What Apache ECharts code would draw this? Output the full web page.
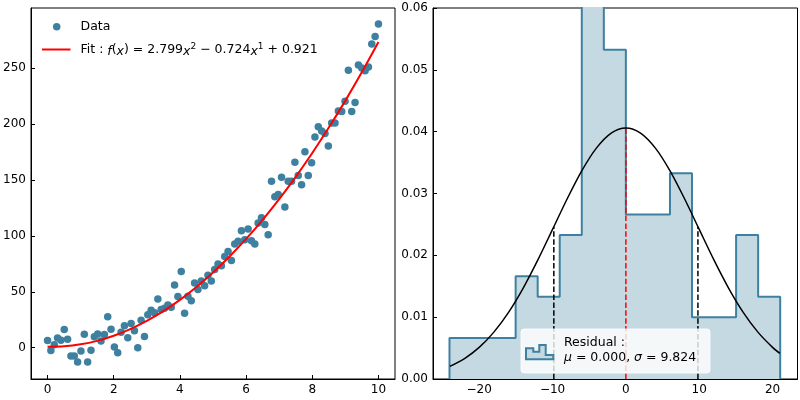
<!DOCTYPE html>
<html>
<head>
<meta charset="utf-8">
<script src="https://cdn.jsdelivr.net/npm/echarts@6/dist/echarts.min.js"></script>
<style>
  html, body { margin: 0; padding: 0; background: #fff; }
  #chart { width: 800px; height: 400px; }
</style>
</head>
<body>
<div id="chart"></div>
<script>
// scatter data (left panel)
const dataX = [0, 0.101, 0.202, 0.303, 0.404, 0.505, 0.606, 0.707, 0.808, 0.909,
  1.010, 1.111, 1.212, 1.313, 1.414, 1.515, 1.616, 1.717, 1.818, 1.919,
  2.020, 2.121, 2.222, 2.323, 2.424, 2.525, 2.626, 2.727, 2.828, 2.929,
  3.030, 3.131, 3.232, 3.333, 3.434, 3.535, 3.636, 3.737, 3.838, 3.939,
  4.040, 4.141, 4.242, 4.343, 4.444, 4.545, 4.646, 4.747, 4.848, 4.949,
  5.051, 5.152, 5.253, 5.354, 5.455, 5.556, 5.657, 5.758, 5.859, 5.960,
  6.061, 6.162, 6.263, 6.364, 6.465, 6.566, 6.667, 6.768, 6.869, 6.970,
  7.071, 7.172, 7.273, 7.374, 7.475, 7.576, 7.677, 7.778, 7.879, 7.980,
  8.081, 8.182, 8.283, 8.384, 8.485, 8.586, 8.687, 8.788, 8.889, 8.990,
  9.091, 9.192, 9.293, 9.394, 9.495, 9.596, 9.697, 9.798, 9.899, 10];
const dataY = [6.5, -2.5, 2.6, 8.7, 6.6, 16.2, 7.6, -7.5, -7.5, -12.8,
  -3.0, 12.1, -12.8, -2.2, 9.9, 12.3, 6.1, 11.9, 27.8, 16.6,
  0.6, -4.5, 13.8, 19.6, 9.0, 21.6, 15.1, 0.0, 24.6, 10.0,
  29.5, 33.5, 31.3, 43.5, 34.1, 35.4, 38.2, 36.1, 56.1, 45.8,
  68.2, 30.9, 46.1, 42.0, 58.0, 52.0, 59.6, 55.4, 64.8, 59.6,
  70.0, 74.9, 73.3, 81.7, 86.2, 78.1, 92.8, 95.2, 104.6, 96.7,
  106.3, 95.8, 92.8, 111.7, 116.2, 110.3, 101.0, 149.0, 135.0, 137.0,
  152.6, 126.0, 149.0, 149.0, 166.0, 154.1, 145.8, 175.4, 154.1, 165.5,
  188.5, 197.8, 193.9, 191.6, 180.4, 201.0, 201.0, 211.8, 211.3, 220.6,
  248.4, 211.3, 219.4, 253.1, 250.2, 247.8, 251.3, 271.7, 278.6, 289.7];

// fitted curve
const fitX = [0, 0.5, 1, 1.5, 2, 2.5, 3, 3.5, 4, 4.5, 5, 5.5, 6, 6.5, 7, 7.5, 8, 8.5, 9, 9.5, 10];
const fitY = [0.92, 1.26, 3.00, 6.13, 10.67, 16.61, 23.94, 32.68, 42.81, 54.34, 67.28,
  81.61, 97.34, 114.47, 133.00, 152.94, 174.27, 197.00, 221.12, 246.65, 273.58];

// residual histogram (right panel)
const binEdges = [-24.05, -21.044, -18.038, -15.032, -12.026, -9.02, -6.014, -3.008,
  -0.002, 3.004, 6.01, 9.016, 12.022, 15.028, 18.034, 21.04];
const binDensity = [0.00665, 0.00665, 0.00665, 0.01663, 0.01331, 0.02329, 0.0632, 0.05323,
  0.02661, 0.02661, 0.03327, 0.00998, 0.00998, 0.02329, 0.01331];

// normal curve
const pdfX = [-24, -22, -20, -18, -16, -14, -12, -10, -8, -6, -4, -2, 0, 2, 4, 6, 8, 10, 12, 14, 16, 18, 20, 21];
const pdfY = [0.00205, 0.00331, 0.00511, 0.00758, 0.01078, 0.01471, 0.01926, 0.02419,
  0.02915, 0.03370, 0.03738, 0.03978, 0.04061, 0.03978, 0.03738, 0.03370, 0.02915,
  0.02419, 0.01926, 0.01471, 0.01078, 0.00758, 0.00511, 0.00413];

const mu = 0;
const sigma = 9.824;
const pdfPeak = 0.04061;
const pdfAtSigma = 0.02463;

// tick labels
const leftXTicks = [0, 2, 4, 6, 8, 10];
const leftYTicks = [0, 50, 100, 150, 200, 250];
const rightXTicks = [-20, -10, 0, 10, 20];
const rightYTicks = [0, 0.01, 0.02, 0.03, 0.04, 0.05, 0.06];

const FONT = 'DejaVu Sans';
const BLUE = '#3e80a0';
const FILL = '#c5d9e2';

function zip(xs, ys) {
  return xs.map(function (x, i) { return [x, ys[i]]; });
}

function histOutline(edges, dens) {
  const pts = [[edges[0], 0]];
  for (let i = 0; i < dens.length; i++) {
    pts.push([edges[i], dens[i]]);
    pts.push([edges[i + 1], dens[i]]);
  }
  pts.push([edges[edges.length - 1], 0]);
  return pts;
}

function axisCommon(ticks, fmt) {
  return {
    type: 'value',
    splitLine: { show: false },
    axisLine: { show: true, onZero: false, lineStyle: { color: '#000', width: 1 } },
    axisTick: { show: true, inside: true, length: 4, customValues: ticks,
      lineStyle: { color: '#000', width: 1 } },
    axisLabel: { customValues: ticks, color: '#000', fontFamily: FONT, fontSize: 12,
      margin: 5, formatter: fmt }
  };
}

function minusFmt(v) {
  return String(v).replace('-', '\u2212');
}

const chart = echarts.init(document.getElementById('chart'), null, { renderer: 'canvas' });

const option = {
  backgroundColor: '#fff',
  animation: false,
  grid: [
    { left: 31, top: 8, width: 364, height: 371, show: true, borderColor: '#000', borderWidth: 1, backgroundColor: 'transparent' },
    { left: 433, top: 8, width: 364.5, height: 371, show: true, borderColor: '#000', borderWidth: 1, backgroundColor: 'transparent' }
  ],
  xAxis: [
    Object.assign(axisCommon(leftXTicks, minusFmt), { gridIndex: 0, position: 'bottom', min: -0.5, max: 10.5 }),
    Object.assign(axisCommon(rightXTicks, minusFmt), { gridIndex: 1, position: 'bottom', min: -26.3, max: 23.4 })
  ],
  yAxis: [
    Object.assign(axisCommon(leftYTicks, minusFmt), { gridIndex: 0, position: 'left', min: -28, max: 304 }),
    Object.assign(axisCommon(rightYTicks, function (v) { return v.toFixed(2); }), { gridIndex: 1, position: 'left', min: 0, max: 0.06 })
  ],
  series: [
    {
      type: 'scatter', xAxisIndex: 0, yAxisIndex: 0,
      data: zip(dataX, dataY),
      symbolSize: 7.5,
      itemStyle: { color: BLUE, opacity: 1 },
      z: 2
    },
    {
      type: 'line', xAxisIndex: 0, yAxisIndex: 0,
      data: zip(fitX, fitY),
      smooth: 0.3, showSymbol: false, symbol: 'none',
      lineStyle: { color: '#ff0000', width: 2 },
      z: 3
    },
    {
      type: 'line', xAxisIndex: 1, yAxisIndex: 1,
      data: histOutline(binEdges, binDensity),
      symbol: 'none', clip: true,
      lineStyle: { color: BLUE, width: 2 },
      areaStyle: { color: FILL, opacity: 1, origin: 'start' },
      z: 2
    },
    {
      type: 'line', xAxisIndex: 1, yAxisIndex: 1,
      data: zip(pdfX, pdfY),
      smooth: 0.3, symbol: 'none',
      lineStyle: { color: '#000', width: 1.5 },
      z: 4
    },
    {
      // mean line
      type: 'line', xAxisIndex: 1, yAxisIndex: 1,
      data: [[mu, 0], [mu, pdfPeak]],
      symbol: 'none',
      lineStyle: { color: '#ff0000', width: 1.5, type: [5.5, 2.4] },
      z: 3
    },
    {
      // +/- sigma lines
      type: 'line', xAxisIndex: 1, yAxisIndex: 1,
      data: [[mu - sigma, 0], [mu - sigma, pdfAtSigma], null, [mu + sigma, 0], [mu + sigma, pdfAtSigma]],
      symbol: 'none', connectNulls: false,
      lineStyle: { color: '#000', width: 1.5, type: [5.5, 2.4] },
      z: 3
    }
  ],
  graphic: [
    // left legend
    { type: 'circle', z: 100, shape: { cx: 56.7, cy: 26.7, r: 3.75 }, style: { fill: BLUE } },
    { type: 'text', z: 100, x: 80.5, y: 27, style: { text: 'Data', fill: '#000',
      font: '12.5px "DejaVu Sans"', verticalAlign: 'middle' } },
    { type: 'line', z: 100, shape: { x1: 42, y1: 49.5, x2: 70.5, y2: 49.5 }, style: { stroke: '#ff0000', lineWidth: 2 } },
    { type: 'text', z: 100, x: 80.5, y: 50, style: {
      text: 'Fit : {i|f}({i|x}) = 2.799{i|x}{s|2} \u2212 0.724{i|x}{s|1} + 0.921',
      fill: '#000', font: '12.5px "DejaVu Sans"', verticalAlign: 'middle',
      rich: {
        i: { fontFamily: FONT, fontSize: 12.5, fontStyle: 'italic', lineHeight: 16, verticalAlign: 'bottom' },
        s: { fontFamily: FONT, fontSize: 9, lineHeight: 16, verticalAlign: 'top' }
      }
    } },
    // right legend
    { type: 'rect', z: 100, shape: { x: 521, y: 329, width: 189, height: 44, r: 3 },
      style: { fill: 'rgba(255,255,255,0.8)', stroke: 'rgba(255,255,255,0.8)' } },
    { type: 'polygon', z: 101, shape: { points: [[526, 359.3], [526, 348.3], [533.3, 348.3], [533.3, 351.7],
      [539.3, 351.7], [539.3, 345], [545.7, 345], [545.7, 355], [553.3, 355], [553.3, 359.3]] },
      style: { fill: FILL, stroke: BLUE, lineWidth: 2 } },
    { type: 'text', z: 101, x: 564, y: 342.3, style: { text: 'Residual :', fill: '#000',
      font: '12.5px "DejaVu Sans"', verticalAlign: 'middle' } },
    { type: 'text', z: 101, x: 564, y: 357.7, style: {
      text: '{i|\u03bc} = 0.000, {i|\u03c3} = 9.824', fill: '#000',
      font: '12.5px "DejaVu Sans"', verticalAlign: 'middle',
      rich: { i: { fontFamily: FONT, fontSize: 12.5, fontStyle: 'italic' } }
    } }
  ]
};

chart.setOption(option);
</script>
</body>
</html>
